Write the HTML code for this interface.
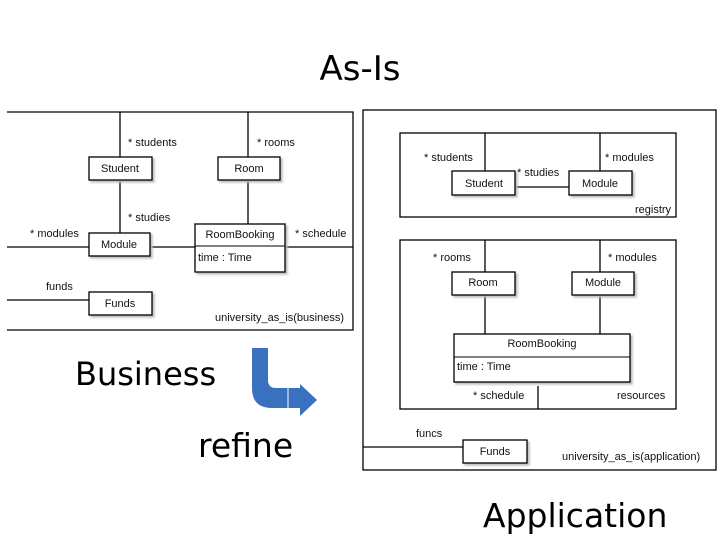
<!DOCTYPE html>
<html><head><style>
body{margin:0;width:720px;height:540px;background:#fff;overflow:hidden;position:relative}
svg{position:absolute;left:0;top:0}
.s{font-family:"Liberation Sans",sans-serif;font-size:11px;fill:#111}
.c{font-family:"Comic Sans MS","DejaVu Sans",sans-serif;fill:#000}
</style></head><body>
<svg width="720" height="540" viewBox="0 0 720 540">
<text class="c" x="360" y="80" font-size="34" text-anchor="middle">As-Is</text>
<g stroke="#000" stroke-width="1.3" fill="none">
<polyline points="7,112 353,112 353,330 7,330"/>
<line x1="120" y1="112" x2="120" y2="233"/>
<line x1="248" y1="112" x2="248" y2="224"/>
<line x1="7" y1="247" x2="353" y2="247"/>
<line x1="7" y1="300" x2="89" y2="300"/>
<rect x="363" y="110" width="353" height="360"/>
<rect x="400" y="133" width="276" height="84"/>
<line x1="485" y1="133" x2="485" y2="171"/>
<line x1="600" y1="133" x2="600" y2="171"/>
<line x1="515" y1="187" x2="569" y2="187"/>
<rect x="400" y="240" width="276" height="169"/>
<line x1="485" y1="240" x2="485" y2="334"/>
<line x1="600" y1="240" x2="600" y2="334"/>
<line x1="538" y1="386" x2="538" y2="409"/>
<line x1="363" y1="447" x2="463" y2="447"/>
</g>
<g stroke="#000" stroke-width="1.3" fill="#fff" style="filter:drop-shadow(2px 2px 1px #bbb)">
<rect x="89" y="157" width="63" height="23"/>
<rect x="218" y="157" width="62" height="23"/>
<rect x="89" y="233" width="61" height="23"/>
<rect x="195" y="224" width="90" height="48"/>
<rect x="89" y="292" width="63" height="23"/>
<rect x="452" y="171" width="63" height="24"/>
<rect x="569" y="171" width="63" height="24"/>
<rect x="452" y="272" width="63" height="23"/>
<rect x="572" y="272" width="62" height="23"/>
<rect x="454" y="334" width="176" height="48"/>
<rect x="463" y="440" width="64" height="23"/>
</g>
<g stroke="#000" stroke-width="1">
<line x1="195" y1="246" x2="285" y2="246"/>
<line x1="454" y1="357" x2="630" y2="357"/>
</g>
<g class="s">
<text x="128" y="146">* students</text>
<text x="257" y="146">* rooms</text>
<text x="120" y="172" text-anchor="middle">Student</text>
<text x="249" y="172" text-anchor="middle">Room</text>
<text x="128" y="221">* studies</text>
<text x="30" y="237">* modules</text>
<text x="295" y="237">* schedule</text>
<text x="119" y="248" text-anchor="middle">Module</text>
<text x="240" y="238" text-anchor="middle">RoomBooking</text>
<text x="198" y="261">time : Time</text>
<text x="46" y="290">funds</text>
<text x="120" y="307" text-anchor="middle">Funds</text>
<text x="215" y="321">university_as_is(business)</text>
<text x="424" y="161">* students</text>
<text x="605" y="161">* modules</text>
<text x="517" y="176">* studies</text>
<text x="484" y="187" text-anchor="middle">Student</text>
<text x="600" y="187" text-anchor="middle">Module</text>
<text x="635" y="213">registry</text>
<text x="433" y="261">* rooms</text>
<text x="608" y="261">* modules</text>
<text x="483" y="286" text-anchor="middle">Room</text>
<text x="603" y="286" text-anchor="middle">Module</text>
<text x="542" y="347" text-anchor="middle">RoomBooking</text>
<text x="457" y="370">time : Time</text>
<text x="473" y="399">* schedule</text>
<text x="617" y="399">resources</text>
<text x="416" y="437">funcs</text>
<text x="495" y="455" text-anchor="middle">Funds</text>
<text x="562" y="460">university_as_is(application)</text>
</g>
<text class="c" x="75" y="385" font-size="32">Business</text>
<text class="c" x="198" y="457" font-size="33">refine</text>
<text class="c" x="483" y="527" font-size="33">Application</text>
<path d="M252,348 L268,348 L268,380 Q268,388 276,388 L300,388 L300,384 L317,400 L300,416 L300,408 L272,408 Q252,408 252,388 Z" fill="#3a70c0"/>
<line x1="288" y1="388" x2="288" y2="408" stroke="#fff" stroke-width="1"/>
</svg>
</body></html>
